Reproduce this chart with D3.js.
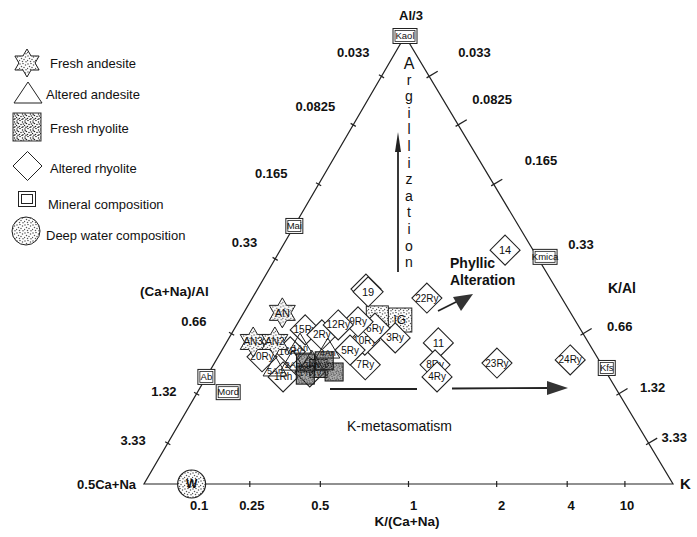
<!DOCTYPE html>
<html><head><meta charset="utf-8">
<script src="https://cdn.jsdelivr.net/npm/d3@7"></script>
<style>
body{margin:0;background:#fff}
text{font-family:"Liberation Sans",Arial,sans-serif;fill:#111}
</style>
</head><body>
<svg id="c" width="697" height="537"></svg>
<script>
// ---------------- DATA ----------------
// Ternary axes: Al/3 (top), 0.5Ca+Na (left), K (right)
const leftTickValues   = [0.033, 0.0825, 0.165, 0.33, 0.66, 1.32, 3.33];   // (Ca+Na)/Al
const rightTickValues  = [0.033, 0.0825, 0.165, 0.33, 0.66, 1.32, 3.33];   // K/Al
const bottomTickValues = [0.1, 0.25, 0.5, 1, 2, 4, 10];                    // K/(Ca+Na)
const tickLabelsLeft   = ["0.033","0.0825","0.165","0.33","0.66","1.32","3.33"];
const tickLabelsRight  = ["0.033","0.0825","0.165","0.33","0.66","1.32","3.33"];
const tickLabelsBottom = ["0.1","0.25","0.5","1","2","4","10"];

// compositions: al = Al/3 fraction, k = K fraction (rest = 0.5Ca+Na)
const mineralNames = ["Kaol","Mai","Ab","Mord","Kmica","Kfs"];
const mineralAl    = [1.0, 0.576, 0.239, 0.205, 0.507, 0.259];
const mineralK     = [0.0, 0.0,   0.0,   0.058, 0.508, 0.747];

const waterNames = ["W"];
const waterAl    = [0.0];
const waterK     = [0.09];

const freshAndesiteNames = ["AN","AN3","AN2"];
const freshAndesiteAl    = [0.382, 0.317, 0.317];
const freshAndesiteK     = [0.073, 0.050, 0.091];

const alteredAndesiteNames = ["1An","2An","3An","4An","5An"];
const alteredAndesiteAl    = [0.310, 0.272, 0.272, 0.299, 0.259];
const alteredAndesiteK     = [0.142, 0.147, 0.183, 0.200, 0.120];

// fresh rhyolite: two light boxes (IG + neighbour), the rest form the dark cluster
const freshRhyoliteNames = ["IG","","","","","",""];
const freshRhyoliteAl    = [0.366, 0.373, 0.270, 0.258, 0.250, 0.243, 0.275];
const freshRhyoliteK     = [0.303, 0.257, 0.172, 0.203, 0.236, 0.185, 0.205];

const alteredRhyoliteNames = ["14","18","19","22Ry","11","8Ry","4Ry","23Ry","24Ry","7Ry","3Ry","10Ry","6Ry","9Ry","20Ry","15Ry","2Ry","12Ry","1Rh","5Ry","16Ry","17Ry"];
const alteredRhyoliteAl    = [0.522,0.435,0.429,0.415,0.315,0.266,0.239,0.270,0.277,0.266,0.326,0.321,0.348,0.362,0.284,0.344,0.333,0.355,0.239,0.299,0.295,0.250];
const alteredRhyoliteK     = [0.425,0.205,0.212,0.330,0.401,0.419,0.436,0.534,0.669,0.287,0.314,0.259,0.265,0.226,0.083,0.135,0.172,0.192,0.145,0.242,0.131,0.190];

const legendLabels = ["Fresh andesite","Altered andesite","Fresh rhyolite","Altered rhyolite","Mineral composition","Deep water composition"];

// ---------------- LAYOUT ----------------
const svg = d3.select("#c");
const apexX = 0.4934;                       // apex horizontal position along base
const xs = d3.scaleLinear().domain([0,1]).range([144,673]);
const ys = d3.scaleLinear().domain([0,1]).range([484,36]);
const P = (al,k) => [xs(k + al*apexX), ys(al)];
const ratioPos = r => r/(r+1/3);            // position along side edge from apex

const defs = svg.append("defs");
function stipple(id, n, col, bg){
  const p = defs.append("pattern").attr("id",id).attr("width",8).attr("height",8).attr("patternUnits","userSpaceOnUse");
  if(bg) p.append("rect").attr("width",8).attr("height",8).attr("fill",bg);
  const pts = [[1,1],[4,0.5],[6.5,2],[2.5,3.5],[5,4.5],[0.5,5.5],[3.5,6.5],[7,6.8],[6,7.5],[2,7.2],[7.3,4],[1.2,2.8],[4.5,2.5],[3,5],[5.5,6],[0.3,3.8]];
  pts.slice(0,n).forEach(([x,y])=>p.append("circle").attr("cx",x).attr("cy",y).attr("r",0.75).attr("fill",col));
}
stipple("stip", 8, "#555", "#fff");
stipple("stipD", 12, "#222", "#fff");
stipple("stipK", 16, "#000", "#777");

const A = P(1,0), L = P(0,0), R = P(0,1);
svg.append("path").attr("d",`M${L}L${R}L${A}Z`).attr("fill","none").attr("stroke","#222").attr("stroke-width",1.2);

function unit(p,q){const dx=q[0]-p[0],dy=q[1]-p[1],l=Math.hypot(dx,dy);return [dx/l,dy/l];}
const uL = unit(A,L), nL=[-uL[1],uL[0]];
const leftLabelOff = [[-12,-24],[-18,-18],[-31,-11],[-18,-16],[-25,-12],[-20,-2],[-22,-3]];
leftTickValues.forEach((r,i)=>{
  const t = ratioPos(r); const p = P(1-t,0);
  svg.append("line").attr("x1",p[0]-nL[0]*3).attr("y1",p[1]-nL[1]*3).attr("x2",p[0]+nL[0]*3).attr("y2",p[1]+nL[1]*3).attr("stroke","#222").attr("stroke-width",1.2);
  svg.append("text").attr("x",p[0]+leftLabelOff[i][0]).attr("y",p[1]+leftLabelOff[i][1]).attr("dy","0.35em")
    .attr("text-anchor","end").attr("font-size",13).attr("font-weight","bold").text(tickLabelsLeft[i]);
});
const uR = unit(A,R), nR=[-uR[1],uR[0]];
const outR = nR[0] > 0 ? nR : [-nR[0],-nR[1]];
const rightLabelOff = [[29,-24],[14,-25],[31,-24],[30,-14],[24,-7],[21,-6],[13,-6]];
rightTickValues.forEach((r,i)=>{
  const t = ratioPos(r); const p = P(1-t,t);
  svg.append("line").attr("x1",p[0]-outR[0]*3).attr("y1",p[1]-outR[1]*3).attr("x2",p[0]+outR[0]*10).attr("y2",p[1]+outR[1]*10).attr("stroke","#222").attr("stroke-width",1.3);
  svg.append("text").attr("x",p[0]+rightLabelOff[i][0]).attr("y",p[1]+rightLabelOff[i][1]).attr("dy","0.35em")
    .attr("text-anchor","start").attr("font-size",13).attr("font-weight","bold").text(tickLabelsRight[i]);
});
const bottomLabelOff = [7,2,0,5,5,4,2];
bottomTickValues.forEach((v,i)=>{
  const p = P(0, v/(v+1));
  svg.append("line").attr("x1",p[0]).attr("y1",p[1]-3).attr("x2",p[0]).attr("y2",p[1]+3).attr("stroke","#222").attr("stroke-width",1.2);
  svg.append("text").attr("x",p[0]+bottomLabelOff[i]).attr("y",p[1]+21).attr("dy","0.35em")
    .attr("text-anchor","middle").attr("font-size",13).attr("font-weight","bold").text(tickLabelsBottom[i]);
});

svg.append("text").attr("x",411).attr("y",20).attr("text-anchor","middle").attr("font-size",13).attr("font-weight","bold").text("Al/3");
svg.append("text").attr("x",136).attr("y",489).attr("text-anchor","end").attr("font-size",13).attr("font-weight","bold").text("0.5Ca+Na");
svg.append("text").attr("x",680).attr("y",489).attr("text-anchor","start").attr("font-size",15).attr("font-weight","bold").text("K");
svg.append("text").attr("x",140).attr("y",296).attr("font-size",13.5).attr("font-weight","bold").text("(Ca+Na)/Al");
svg.append("text").attr("x",608).attr("y",293).attr("font-size",14).attr("font-weight","bold").text("K/Al");
svg.append("text").attr("x",407).attr("y",526).attr("text-anchor","middle").attr("font-size",13.5).attr("font-weight","bold").text("K/(Ca+Na)");

const argLetters = "Argillization".split("");
argLetters.forEach((c,i)=>svg.append("text").attr("x",409).attr("y",63+i*16.6).attr("dy","0.35em")
  .attr("text-anchor","middle").attr("font-size",i===0?16:14).text(c));
svg.append("line").attr("x1",398).attr("y1",272).attr("x2",398).attr("y2",150).attr("stroke","#222").attr("stroke-width",1.8);
svg.append("path").attr("d","M398,132L395,152L401,152Z").attr("fill","#222");
svg.append("text").attr("x",450).attr("y",268).attr("font-size",14).attr("font-weight","bold").text("Phyllic");
svg.append("text").attr("x",450).attr("y",285).attr("font-size",14).attr("font-weight","bold").text("Alteration");
svg.append("line").attr("x1",438).attr("y1",311).attr("x2",460).attr("y2",300).attr("stroke","#222").attr("stroke-width",1.8);
svg.append("path").attr("d","M473,294L453,297L461,311Z").attr("fill","#333");
svg.append("text").attr("x",347).attr("y",431).attr("font-size",14).text("K-metasomatism");
svg.append("line").attr("x1",330).attr("y1",389).attr("x2",417).attr("y2",389).attr("stroke","#222").attr("stroke-width",1.8);
svg.append("line").attr("x1",452).attr("y1",388.5).attr("x2",550).attr("y2",388).attr("stroke","#222").attr("stroke-width",1.8);
svg.append("path").attr("d","M568,388L547,381L547,395Z").attr("fill","#333");

function hexStar(r){const pts=[];for(let i=0;i<12;i++){const a=-Math.PI/2+i*Math.PI/6;const rr=i%2?r*0.58:r;pts.push([rr*Math.cos(a),rr*Math.sin(a)]);}return "M"+pts.join("L")+"Z";}
const diamond = h => `M0,${-h}L${h},0L0,${h}L${-h},0Z`;
const tri = (w,h) => `M0,${-h*0.6}L${w/2},${h*0.4}L${-w/2},${h*0.4}Z`;

const g = svg.append("g");
const clusterFont = n => (n.length>2 ? 10 : 11);

freshRhyoliteNames.forEach((n,i)=>{
  if(i>1) return;
  const [x,y] = P(freshRhyoliteAl[i], freshRhyoliteK[i]);
  const s = n ? 24 : 22;
  g.append("rect").attr("x",x-s/2).attr("y",y-s/2).attr("width",s).attr("height",s)
    .attr("fill", "url(#stip)").attr("stroke","#222").attr("stroke-width",1);
  if(n) g.append("text").attr("x",x).attr("y",y).attr("dy","0.35em").attr("text-anchor","middle").attr("font-size",12).text(n);
});
alteredRhyoliteNames.forEach((n,i)=>{
  const [x,y] = P(alteredRhyoliteAl[i], alteredRhyoliteK[i]);
  g.append("path").attr("transform",`translate(${x},${y})`).attr("d",diamond(15))
    .attr("fill","#fff").attr("stroke","#222").attr("stroke-width",1.1);
  g.append("text").attr("x",x).attr("y",y).attr("dy","0.35em").attr("text-anchor","middle").attr("font-size",clusterFont(n)).text(n);
});
freshRhyoliteNames.forEach((n,i)=>{
  if(i<2) return;
  const [x,y] = P(freshRhyoliteAl[i], freshRhyoliteK[i]);
  g.append("rect").attr("x",x-9).attr("y",y-9).attr("width",18).attr("height",18)
    .attr("fill","url(#stipK)").attr("fill-opacity",0.6).attr("stroke","#111").attr("stroke-width",1);
});
alteredAndesiteNames.forEach((n,i)=>{
  const [x,y] = P(alteredAndesiteAl[i], alteredAndesiteK[i]);
  g.append("path").attr("transform",`translate(${x},${y})`).attr("d",tri(24,20))
    .attr("fill","none").attr("stroke","#222").attr("stroke-width",1);
  g.append("text").attr("x",x).attr("y",y+3).attr("dy","0.35em").attr("text-anchor","middle").attr("font-size",9).text(n);
});
freshAndesiteNames.forEach((n,i)=>{
  const [x,y] = P(freshAndesiteAl[i], freshAndesiteK[i]);
  g.append("path").attr("transform",`translate(${x},${y})`).attr("d",hexStar(15))
    .attr("fill","url(#stip)").attr("stroke","#222").attr("stroke-width",1);
  g.append("text").attr("x",x).attr("y",y).attr("dy","0.35em").attr("text-anchor","middle").attr("font-size",clusterFont(n)).text(n);
});
mineralNames.forEach((n,i)=>{
  const [x,y] = P(mineralAl[i], mineralK[i]);
  const w = n.length>3 ? 24 : 17, h = 15;
  g.append("rect").attr("x",x-w/2).attr("y",y-h/2).attr("width",w).attr("height",h).attr("fill","#fff").attr("stroke","#222").attr("stroke-width",1);
  g.append("rect").attr("x",x-w/2+2).attr("y",y-h/2+2).attr("width",w-4).attr("height",h-4).attr("fill","none").attr("stroke","#222").attr("stroke-width",0.8);
  g.append("text").attr("x",x).attr("y",y).attr("dy","0.35em").attr("text-anchor","middle").attr("font-size",9.5).text(n);
});
waterNames.forEach((n,i)=>{
  const [x,y] = P(waterAl[i], waterK[i]);
  g.append("circle").attr("cx",x).attr("cy",y).attr("r",14).attr("fill","url(#stip)").attr("stroke","#222").attr("stroke-width",1.2);
  g.append("text").attr("x",x).attr("y",y).attr("dy","0.35em").attr("text-anchor","middle").attr("font-size",12).attr("font-weight","bold").text(n);
});

const legSym = [[27,63],[28,93],[27,127],[27.5,166],[27,199],[26,231]];
const legTxt = [[50,63],[46,94],[50,128],[50,168],[48,204],[46,235]];
const lg = svg.append("g");
lg.append("path").attr("transform",`translate(${legSym[0]})`).attr("d",hexStar(14)).attr("fill","url(#stip)").attr("stroke","#222");
lg.append("path").attr("transform",`translate(${legSym[1]})`).attr("d","M0,-11L14,10L-14,10Z").attr("fill","none").attr("stroke","#222");
lg.append("rect").attr("x",legSym[2][0]-14).attr("y",legSym[2][1]-14).attr("width",28).attr("height",28).attr("fill","url(#stipD)").attr("stroke","#333");
lg.append("path").attr("transform",`translate(${legSym[3]})`).attr("d",diamond(14.5)).attr("fill","#fff").attr("stroke","#222");
lg.append("rect").attr("x",legSym[4][0]-8.5).attr("y",legSym[4][1]-7.5).attr("width",17).attr("height",15).attr("fill","#fff").attr("stroke","#222");
lg.append("rect").attr("x",legSym[4][0]-5.5).attr("y",legSym[4][1]-4.5).attr("width",11).attr("height",9).attr("fill","none").attr("stroke","#222");
lg.append("circle").attr("cx",legSym[5][0]).attr("cy",legSym[5][1]).attr("r",14).attr("fill","url(#stip)").attr("stroke","#222");
legendLabels.forEach((t,i)=>lg.append("text").attr("x",legTxt[i][0]).attr("y",legTxt[i][1]).attr("dy","0.35em").attr("font-size",13).text(t));
</script>
</body></html>
